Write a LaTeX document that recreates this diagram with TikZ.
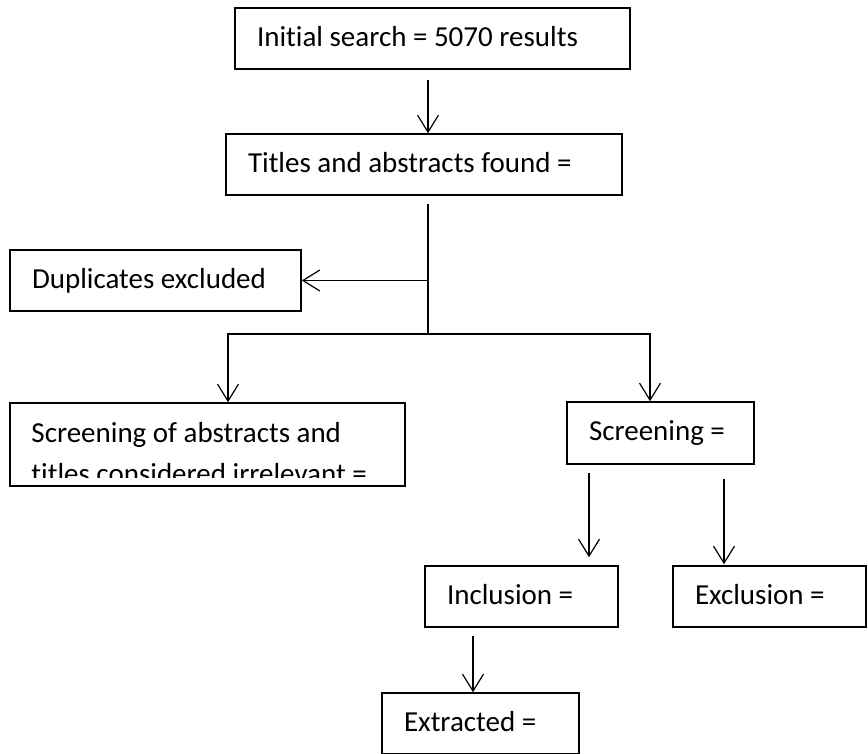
\documentclass[tikz,border=0pt]{standalone}
\usepackage{fontspec}
\setmainfont{Carlito}[Ligatures={NoCommon}]
\usepackage{tikz}
\usetikzlibrary{arrows.meta}
\tikzstyle{arrow} = [line width=1.2pt,-{Straight Barb[length=17pt,width=21pt]}]
\tikzstyle{link} = [line width=1.2pt]

\begin{document}
\begin{tikzpicture}[x=1pt, y=-1pt]
    \tikzset{box/.style = {draw, shape=rectangle, line width=1.5pt, minimum height=61pt, inner xsep=22pt, align=flush left, text height=20pt, text depth=5pt, font=\fontsize{29pt}{41pt}\selectfont},
    boxtext/.style = {inner sep=0pt, align=left, font=\fontsize{29pt}{41pt}\selectfont}}

\clip (0,0) rectangle (868,753);

\node (init) [box, text width=351pt] at (432.5,38.5) {Initial search = 5070 results};
\node (titles) [box, text width=352pt] at (424,164.5) {Titles and abstracts found =};
\node (dup) [box, text width=247pt] at (155.5,280.5) {Duplicates excluded};

\node (irrel) [box, minimum width=395pt, minimum height=83pt] at (207.5,444.5) {};
\begin{scope}
\clip (irrel.north west) rectangle ([yshift=9pt]irrel.south east);
\node (irreltext) [boxtext, anchor=base west] at ([xshift=22pt, yshift=-81pt]irrel.north west) {Screening of abstracts and\\titles considered irrelevant =};
\end{scope}

\node (screen) [box, text width=143pt, minimum height=62pt] at (660.5,433) {Screening =};
\node (incl) [box, text width=149pt] at (521.5,596.5) {Inclusion =};
\node (excl) [box, text width=149pt] at (769.5,596.5) {Exclusion =};
\node (extr) [box, text width=153pt] at (480.5,723.5) {Extracted =};

% joints of the tree
\coordinate (trunk) at (428,334);
\coordinate (ljoint) at (228,334);
\coordinate (rjoint) at (650,334);

\draw [arrow, shorten <=10pt] (init.south -| trunk) -- (titles.north -| trunk);
\draw [link, shorten <=8pt] (titles.south -| trunk) -- (trunk);
\draw [arrow] (trunk |- dup.east) -- (dup.east);
\draw [arrow] (trunk) -- (ljoint) -- (ljoint |- irrel.north);
\draw [arrow] (trunk) -- (rjoint) -- (rjoint |- screen.north);

\draw [arrow, shorten <=8pt, shorten >=8pt] ([xshift=-71.5pt]screen.south) -- ([xshift=-71.5pt]screen.south |- incl.north);
\draw [arrow, shorten <=14pt, shorten >=1pt] ([xshift=63.5pt]screen.south) -- ([xshift=63.5pt]screen.south |- excl.north);
\draw [arrow, shorten <=8pt] ([xshift=-48.5pt]incl.south) -- ([xshift=-48.5pt]incl.south |- extr.north);

\end{tikzpicture}
\end{document}
